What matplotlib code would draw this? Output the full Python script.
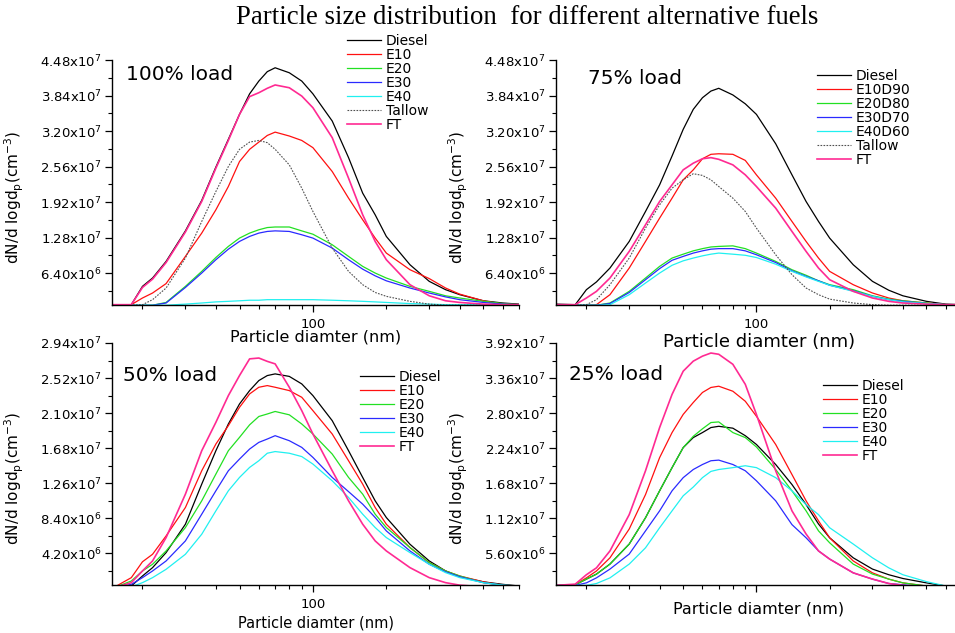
import numpy as np
import matplotlib
matplotlib.use("Agg")
import matplotlib.pyplot as plt
from matplotlib.ticker import FixedLocator, FuncFormatter, NullFormatter

plt.rcParams['font.family'] = 'DejaVu Sans'

W, H = 955, 633

# particle diameter (nm), shared by all load cases
diam = [15, 18, 20, 22, 25, 30, 35, 40, 45, 50, 55, 60, 65, 70, 80, 90, 100,
        120, 140, 160, 180, 200, 250, 300, 350, 400, 500, 600, 700]

# dN/dlogDp in 1e7 cm^-3
# ---- 100% load
p100_diesel = [0.07, 0.07, 0.40, 0.55, 0.85, 1.40, 1.95, 2.55, 3.05, 3.50, 3.87, 4.10, 4.27, 4.34, 4.25, 4.10, 3.87,
               3.38, 2.72, 2.08, 1.69, 1.30, 0.79, 0.49, 0.34, 0.25, 0.14, 0.10, 0.08]
p100_e10 = [0.07, 0.07, 0.19, 0.28, 0.45, 0.94, 1.36, 1.78, 2.20, 2.65, 2.87, 3.00, 3.12, 3.18, 3.11, 3.03, 2.90,
            2.47, 1.99, 1.60, 1.27, 1.00, 0.70, 0.54, 0.37, 0.26, 0.14, 0.08, 0.07]
p100_e20 = [0.06, 0.06, 0.06, 0.06, 0.11, 0.40, 0.67, 0.92, 1.12, 1.27, 1.36, 1.42, 1.46, 1.47, 1.47, 1.40, 1.34,
            1.15, 0.94, 0.76, 0.64, 0.55, 0.40, 0.31, 0.23, 0.19, 0.13, 0.09, 0.07]
p100_e30 = [0.06, 0.06, 0.06, 0.06, 0.10, 0.38, 0.64, 0.88, 1.07, 1.21, 1.30, 1.36, 1.39, 1.40, 1.39, 1.33, 1.27,
            1.09, 0.88, 0.71, 0.59, 0.50, 0.37, 0.28, 0.21, 0.16, 0.11, 0.08, 0.07]
p100_e40 = [0.06, 0.06, 0.06, 0.06, 0.06, 0.08, 0.10, 0.12, 0.13, 0.14, 0.15, 0.15, 0.16, 0.16, 0.16, 0.16, 0.16,
            0.15, 0.14, 0.13, 0.12, 0.11, 0.09, 0.08, 0.07, 0.07, 0.07, 0.07, 0.07]
p100_tallow = [0.06, 0.06, 0.07, 0.16, 0.37, 0.91, 1.57, 2.11, 2.56, 2.87, 3.00, 3.03, 2.99, 2.87, 2.59, 2.17, 1.75,
               1.09, 0.67, 0.43, 0.29, 0.22, 0.13, 0.08, 0.06, 0.06, 0.06, 0.06, 0.06]
p100_ft = [0.07, 0.07, 0.38, 0.53, 0.83, 1.38, 1.93, 2.53, 3.03, 3.50, 3.82, 3.89, 3.97, 4.03, 3.98, 3.83, 3.62,
           3.08, 2.35, 1.69, 1.21, 0.88, 0.43, 0.23, 0.14, 0.11, 0.08, 0.07, 0.07]

# ---- 75% load
p75_diesel = [0.08, 0.07, 0.34, 0.48, 0.73, 1.21, 1.75, 2.23, 2.75, 3.23, 3.59, 3.80, 3.92, 3.97, 3.85, 3.69, 3.50,
              2.97, 2.41, 1.93, 1.57, 1.27, 0.79, 0.49, 0.33, 0.23, 0.13, 0.08, 0.07]
p75_e10 = [0.06, 0.06, 0.06, 0.07, 0.25, 0.73, 1.21, 1.63, 1.99, 2.32, 2.50, 2.70, 2.78, 2.79, 2.78, 2.67, 2.41,
           1.99, 1.57, 1.21, 0.91, 0.67, 0.43, 0.28, 0.19, 0.14, 0.10, 0.07, 0.07]
p75_e20 = [0.06, 0.06, 0.06, 0.06, 0.10, 0.31, 0.55, 0.76, 0.91, 0.98, 1.04, 1.08, 1.11, 1.12, 1.13, 1.08, 1.00,
           0.85, 0.70, 0.60, 0.50, 0.43, 0.34, 0.23, 0.17, 0.14, 0.10, 0.07, 0.06]
p75_e30 = [0.06, 0.06, 0.06, 0.06, 0.09, 0.29, 0.52, 0.72, 0.87, 0.94, 1.00, 1.04, 1.07, 1.08, 1.08, 1.04, 0.97,
           0.83, 0.68, 0.58, 0.50, 0.42, 0.32, 0.22, 0.16, 0.13, 0.09, 0.07, 0.06]
p75_e40 = [0.06, 0.06, 0.06, 0.06, 0.07, 0.25, 0.46, 0.64, 0.78, 0.86, 0.91, 0.95, 0.98, 1.00, 0.98, 0.96, 0.92,
           0.80, 0.67, 0.57, 0.49, 0.42, 0.31, 0.22, 0.16, 0.12, 0.09, 0.07, 0.06]
p75_tallow = [0.06, 0.06, 0.07, 0.16, 0.43, 0.91, 1.45, 1.87, 2.17, 2.32, 2.43, 2.40, 2.32, 2.20, 1.99, 1.75, 1.45,
              0.97, 0.61, 0.37, 0.25, 0.17, 0.10, 0.07, 0.06, 0.06, 0.06, 0.06, 0.06]
p75_ft = [0.07, 0.07, 0.19, 0.31, 0.55, 1.03, 1.51, 1.93, 2.23, 2.50, 2.62, 2.70, 2.72, 2.69, 2.59, 2.41, 2.20,
          1.81, 1.39, 1.03, 0.73, 0.52, 0.31, 0.19, 0.13, 0.10, 0.08, 0.07, 0.07]

# ---- 50% load
p50_diesel = [0.00, 0.03, 0.15, 0.25, 0.43, 0.77, 1.25, 1.65, 1.97, 2.21, 2.37, 2.49, 2.55, 2.57, 2.54, 2.45, 2.31,
              2.01, 1.65, 1.33, 1.05, 0.85, 0.53, 0.33, 0.21, 0.14, 0.08, 0.05, 0.03]
p50_e10 = [0.00, 0.13, 0.32, 0.41, 0.63, 0.97, 1.41, 1.73, 1.95, 2.17, 2.33, 2.41, 2.43, 2.41, 2.37, 2.29, 2.13,
           1.85, 1.53, 1.25, 0.97, 0.77, 0.49, 0.31, 0.21, 0.15, 0.08, 0.04, 0.03]
p50_e20 = [0.00, 0.09, 0.21, 0.29, 0.45, 0.73, 1.05, 1.37, 1.65, 1.81, 1.96, 2.06, 2.09, 2.12, 2.08, 1.97, 1.85,
           1.61, 1.33, 1.13, 0.89, 0.73, 0.49, 0.31, 0.21, 0.15, 0.07, 0.04, 0.03]
p50_e30 = [0.00, 0.05, 0.13, 0.21, 0.33, 0.57, 0.89, 1.17, 1.41, 1.55, 1.67, 1.75, 1.79, 1.83, 1.77, 1.69, 1.57,
           1.33, 1.16, 1.01, 0.85, 0.69, 0.45, 0.29, 0.20, 0.14, 0.07, 0.04, 0.03]
p50_e40 = [0.00, 0.02, 0.07, 0.13, 0.23, 0.41, 0.65, 0.93, 1.17, 1.33, 1.45, 1.53, 1.62, 1.64, 1.62, 1.58, 1.49,
           1.29, 1.09, 0.89, 0.73, 0.61, 0.43, 0.29, 0.19, 0.13, 0.07, 0.04, 0.03]
p50_ft = [0.00, 0.07, 0.21, 0.33, 0.61, 1.13, 1.65, 1.99, 2.31, 2.55, 2.75, 2.76, 2.72, 2.69, 2.41, 2.13, 1.85,
          1.41, 1.05, 0.77, 0.57, 0.45, 0.25, 0.13, 0.07, 0.04, 0.02, 0.01, 0.01]

# ---- 25% load
p25_diesel = [0.05, 0.06, 0.15, 0.23, 0.39, 0.71, 1.13, 1.56, 1.93, 2.25, 2.41, 2.49, 2.57, 2.59, 2.56, 2.44, 2.30,
              1.98, 1.66, 1.34, 1.03, 0.81, 0.49, 0.31, 0.22, 0.16, 0.09, 0.04, 0.02]
p25_e10 = [0.05, 0.06, 0.17, 0.28, 0.49, 0.95, 1.50, 2.09, 2.49, 2.78, 2.97, 3.13, 3.21, 3.23, 3.15, 2.99, 2.75,
           2.30, 1.82, 1.40, 1.08, 0.81, 0.44, 0.25, 0.15, 0.09, 0.04, 0.01, 0.01]
p25_e20 = [0.05, 0.06, 0.15, 0.23, 0.39, 0.71, 1.13, 1.56, 1.93, 2.25, 2.43, 2.55, 2.65, 2.66, 2.49, 2.41, 2.26,
           1.90, 1.56, 1.24, 0.92, 0.73, 0.39, 0.23, 0.15, 0.09, 0.04, 0.02, 0.01]
p25_e30 = [0.05, 0.05, 0.09, 0.17, 0.31, 0.55, 0.92, 1.24, 1.56, 1.77, 1.90, 1.98, 2.04, 2.05, 1.98, 1.88, 1.72,
           1.40, 1.02, 0.81, 0.60, 0.47, 0.25, 0.15, 0.08, 0.06, 0.02, 0.01, 0.01]
p25_e40 = [0.05, 0.05, 0.05, 0.08, 0.17, 0.39, 0.65, 0.97, 1.24, 1.48, 1.62, 1.77, 1.87, 1.90, 1.93, 1.96, 1.93,
           1.77, 1.56, 1.34, 1.18, 0.97, 0.71, 0.49, 0.33, 0.22, 0.11, 0.04, 0.01]
p25_ft = [0.05, 0.07, 0.22, 0.33, 0.60, 1.18, 1.88, 2.57, 3.10, 3.47, 3.63, 3.71, 3.76, 3.74, 3.58, 3.26, 2.78,
          1.88, 1.24, 0.87, 0.60, 0.47, 0.25, 0.15, 0.08, 0.05, 0.02, 0.01, 0.01]

names_a = ["Diesel", "E10", "E20", "E30", "E40", "Tallow", "FT"]
names_b = ["Diesel", "E10D90", "E20D80", "E30D70", "E40D60", "Tallow", "FT"]
names_c = ["Diesel", "E10", "E20", "E30", "E40", "FT"]

styles = {
    "Diesel": dict(color="black", lw=0.9),
    "E10": dict(color="#ff1010", lw=0.9),
    "E20": dict(color="#22e022", lw=0.9),
    "E30": dict(color="#2a2aff", lw=0.9),
    "E40": dict(color="#20f0f0", lw=0.9),
    "Tallow": dict(color="#505050", lw=0.8, ls=(0, (1.5, 1.2))),
    "FT": dict(color="#ff2a92", lw=1.2),
}


def px_rect(x0, y0, x1, y1):
    return [x0 / W, 1 - y1 / H, (x1 - x0) / W, (y1 - y0) / H]


def sci_fmt(v, pos):
    e = int(np.floor(np.log10(v)))
    return "%.2fx10$^{%d}$" % (v / 10 ** e, e)


fig = plt.figure(figsize=(W / 100, H / 100), dpi=100)
fig.text(527 / W, 1 - 17 / H, "Particle size distribution  for different alternative fuels",
         family="Liberation Serif", fontsize=19.3, ha="center", va="center")

panels = [
    # rect, series, labels, ymax, ystep, load text, text pos, legend pos, xlabel size, xlabel offset, show 100
    (px_rect(112, 60, 519, 305), [p100_diesel, p100_e10, p100_e20, p100_e30, p100_e40, p100_tallow, p100_ft],
     names_a, 4.48, 0.64, "100% load", (126, 75), (347, 34), 11.5, 32, True),
    (px_rect(556, 60, 962, 305), [p75_diesel, p75_e10, p75_e20, p75_e30, p75_e40, p75_tallow, p75_ft],
     names_b, 4.48, 0.64, "75% load", (588, 78), (817, 69), 13, 37, True),
    (px_rect(112, 343, 519, 585), [p50_diesel, p50_e10, p50_e20, p50_e30, p50_e40, p50_ft],
     names_c, 2.94, 0.42, "50% load", (123, 376), (360, 370), 10.5, 38, True),
    (px_rect(556, 343, 962, 585), [p25_diesel, p25_e10, p25_e20, p25_e30, p25_e40, p25_ft],
     names_c, 3.92, 0.56, "25% load", (569, 374), (823, 379), 11.5, 24, False),
]

for rect, series, labels, ymax, ystep, load, load_xy, leg_xy, xl_size, xl_off, show100 in panels:
    ax = fig.add_axes(rect)
    ax.patch.set_alpha(0)   # panels overlap a bit, keep labels visible
    for lab, y in zip(labels, series):
        key = "E" + lab[1:3] if lab.startswith("E") else lab
        ax.plot(diam, np.array(y) * 1e7, label=lab, **styles[key])

    ax.set_xscale("log")
    ax.set_xlim(15, 700)
    ax.set_ylim(ymax * 1e7 / 70, ymax * 1e7)
    for s in ["top", "right"]:
        ax.spines[s].set_visible(False)
    for s in ["left", "bottom"]:
        ax.spines[s].set_linewidth(1.0)

    ax.xaxis.set_major_locator(FixedLocator([100]))
    ax.xaxis.set_minor_locator(FixedLocator([20, 30, 40, 50, 60, 70, 80, 90, 200, 300, 400, 500, 600, 700]))
    ax.xaxis.set_minor_formatter(NullFormatter())
    if show100:
        ax.xaxis.set_major_formatter(FuncFormatter(lambda v, p: "100"))
    else:
        ax.xaxis.set_major_formatter(NullFormatter())

    ax.yaxis.set_major_locator(FixedLocator([ystep * k * 1e7 for k in range(1, 8)]))
    ax.yaxis.set_minor_locator(FixedLocator([ystep * (k - 0.5) * 1e7 for k in range(1, 8)]))
    ax.yaxis.set_major_formatter(FuncFormatter(sci_fmt))
    ax.tick_params(which="major", direction="out", length=5, width=0.9, labelsize=9.5, pad=2.5)
    ax.tick_params(axis="x", which="major", pad=4)
    ax.tick_params(which="minor", direction="out", length=3, width=0.8)

    ax.set_ylabel("dN/d logd$_\\mathregular{p}$(cm$^{-3}$)", fontsize=11)
    ax.yaxis.set_label_coords(-86 / (rect[2] * W), 0.44)
    ax.set_xlabel("Particle diamter (nm)", fontsize=xl_size)
    ax.xaxis.set_label_coords(0.5, -xl_off / (rect[3] * H))
    ax.xaxis.label.set_va("center")

    fig.text(load_xy[0] / W, 1 - load_xy[1] / H, load, fontsize=14.5, ha="left", va="center")
    ax.legend(loc="upper left", bbox_to_anchor=(leg_xy[0] / W, 1 - leg_xy[1] / H),
              bbox_transform=fig.transFigure, frameon=False, fontsize=10,
              borderpad=0, borderaxespad=0, labelspacing=0.0, handlelength=2.45,
              handletextpad=0.36)

fig.savefig("out.png", dpi=100)
